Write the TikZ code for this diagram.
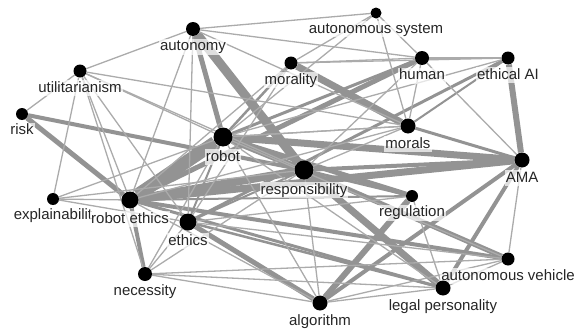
\documentclass[tikz,border=0pt]{standalone}
\usepackage{fontspec}
\setmainfont{Liberation Sans}
\usetikzlibrary{backgrounds}
\definecolor{edgegray}{HTML}{939393}
\definecolor{thingray}{HTML}{ABABAB}
\definecolor{txtgray}{HTML}{262626}

\begin{document}
\begin{tikzpicture}[x=1pt,y=-1pt,label distance=2.5pt,
  dot/.style={circle,fill=black,inner sep=0pt,minimum size=#1},
  lbl/.style={font=\fontsize{15}{17}\selectfont,text=txtgray,fill=white,
    fill opacity=0.7,text opacity=1,inner sep=1pt,text height=11pt,text depth=3pt},
  lnk/.style={draw=edgegray,line width=#1}]
  \useasboundingbox (0,0) rectangle (576,332);
  % keywords
  \node[dot=11pt,label={[lbl]below:autonomous system}] (asys) at (376,13) {};
  \node[dot=14pt,label={[lbl]below:autonomy}] (autonomy) at (193,29) {};
  \node[dot=13pt,label={[lbl]below:morality}] (morality) at (291,63) {};
  \node[dot=14pt,label={[lbl]below:human}] (human) at (422,58) {};
  \node[dot=13pt,label={[lbl]below:ethical AI}] (ethicalAI) at (508,58) {};
  \node[dot=13pt,label={[lbl]below:utilitarianism}] (utilit) at (80,71) {};
  \node[dot=12pt,label={[lbl]below:risk}] (risk) at (22,114) {};
  \node[dot=19pt,label={[lbl]below:robot}] (robot) at (223,137) {};
  \node[dot=15pt,label={[lbl]below:morals}] (morals) at (408,126) {};
  \node[dot=15pt,label={[lbl]below:AMA}] (AMA) at (522,160) {};
  \node[dot=19pt,label={[lbl]below:responsibility}] (resp) at (304,170) {};
  \node[dot=12pt,label={[lbl]below:explainabilit}] (explain) at (53,199) {};
  \node[dot=17pt,label={[lbl]below:robot ethics}] (rethics) at (130,200) {};
  \node[dot=17pt,label={[lbl]below:ethics}] (ethics) at (188,222) {};
  \node[dot=14pt,label={[lbl]below:necessity}] (necess) at (145,274) {};
  \node[dot=12pt,label={[lbl]below:regulation}] (regul) at (412,196) {};
  \node[dot=13pt,label={[lbl]below:autonomous vehicle}] (avehicle) at (508,259) {};
  \node[dot=15pt,label={[lbl]below:legal personality}] (legal) at (443,288) {};
  \node[dot=15pt,label={[lbl]below:algorithm}] (algo) at (320,303) {};

  % co-occurrence links
  \begin{scope}[on background layer]
    \foreach \a/\b/\w in {rethics/robot/13, autonomy/resp/9, rethics/resp/8,
        rethics/AMA/7, robot/AMA/7, morality/morals/7, robot/resp/6,
        resp/legal/7, ethicalAI/AMA/6, rethics/human/5, autonomy/robot/5,
        algo/regul/6, robot/regul/5, ethics/algo/5, resp/avehicle/5,
        risk/rethics/5, risk/resp/4, rethics/necess/4, AMA/legal/4,
        AMA/algo/4, rethics/avehicle/4, morals/AMA/3, resp/AMA/4,
        ethicalAI/ethics/3, robot/human/3, rethics/legal/3, resp/regul/3,
        robot/morality/2.5, ethics/legal/2.5, rethics/regul/2, resp/ethics/2,
        robot/ethics/2, morals/ethicalAI/2}
      \draw[lnk=\w pt] (\a) -- (\b);
    \foreach \a/\b in {asys/autonomy, asys/morality, asys/morals, asys/robot,
        asys/human, autonomy/utilit, autonomy/human, autonomy/morals,
        autonomy/rethics, autonomy/ethics, utilit/risk, utilit/explain,
        utilit/rethics, utilit/ethics, utilit/morals, utilit/robot,
        utilit/resp, utilit/necess, explain/rethics, explain/robot,
        explain/ethics, explain/resp, necess/ethics, necess/robot,
        necess/resp, necess/algo, necess/avehicle, necess/legal,
        algo/resp, algo/robot, algo/legal, algo/avehicle, algo/rethics,
        legal/avehicle, legal/regul, legal/robot, avehicle/AMA,
        avehicle/robot, avehicle/ethics, regul/ethics, AMA/human,
        morals/human, morals/rethics, morals/robot, human/morality,
        ethicalAI/morality, ethicalAI/robot, ethicalAI/human,
        morality/rethics, morality/ethics, resp/human, resp/morals,
        robot/morals}
      \draw[lnk=1.3pt,draw=thingray] (\a) -- (\b);
  \end{scope}
\end{tikzpicture}
\end{document}
